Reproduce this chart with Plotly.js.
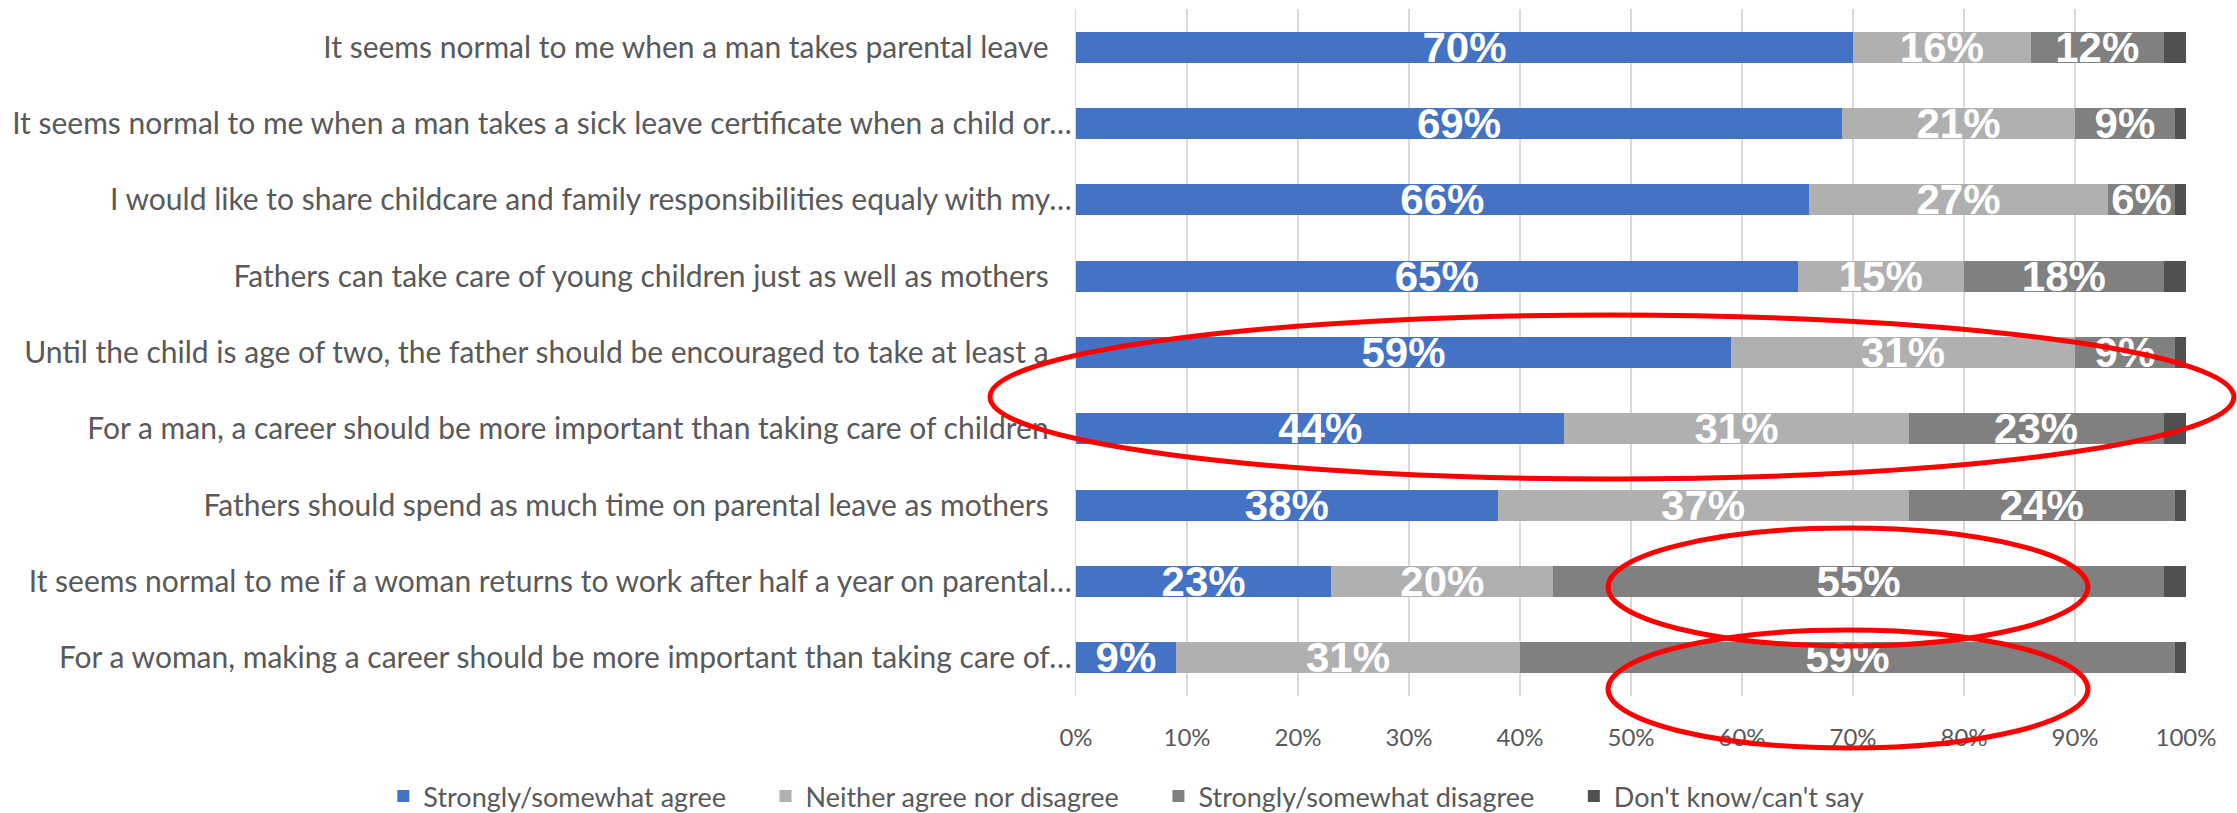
<!DOCTYPE html>
<html>
<head>
<meta charset="utf-8">
<script src="https://cdn.plot.ly/plotly-3.0.1.min.js"></script>
<style>html,body{margin:0;padding:0;background:#fff;}</style>
</head>
<body>
<div id="chart" style="width:2237px;height:813px;"></div>
<script>
// ---- data ----
const categories = [
  "It seems normal to me when a man takes parental leave",
  "It seems normal to me when a man takes a sick leave certificate when a child or\u2026",
  "I would like to share childcare and family responsibilities equaly with my\u2026",
  "Fathers can take care of young children just as well as mothers",
  "Until the child is age of two, the father should be encouraged to take at least a",
  "For a man, a career should be more important than taking care of children",
  "Fathers should spend as much time on parental leave as mothers",
  "It seems normal to me if a woman returns to work after half a year on parental\u2026",
  "For a woman, making a career should be more important than taking care of\u2026"
];
const agree     = [70, 69, 66, 65, 59, 44, 38, 23, 9];
const neither   = [16, 21, 27, 15, 31, 31, 37, 20, 31];
const disagree  = [12,  9,  6, 18,  9, 23, 24, 55, 59];
const dontKnow  = [ 2,  1,  1,  2,  1,  2,  1,  2,  1];
const seriesNames = [
  "Strongly/somewhat agree",
  "Neither agree nor disagree",
  "Strongly/somewhat disagree",
  "Don't know/can't say"
];
const xTickVals   = [0, 10, 20, 30, 40, 50, 60, 70, 80, 90, 100];
const xTickLabels = ["0%", "10%", "20%", "30%", "40%", "50%", "60%", "70%", "80%", "90%", "100%"];

// ---- style ----
const colors = ["#4472C4", "#B0B0B0", "#808080", "#505050"];
const labelFont = "Lato, 'Open Sans', sans-serif";
const NB = "\u00a0";
const catPad = NB.repeat(3);
const legendPad = NB.repeat(5);

const tickText = categories.map(c => c.endsWith("\u2026") ? c : c + catPad);

const seriesValues = [agree, neither, disagree, dontKnow];
const traces = seriesValues.map((vals, i) => ({
  type: "bar",
  orientation: "h",
  name: seriesNames[i] + (i < 3 ? legendPad : ""),
  y: categories,
  x: vals,
  marker: {color: colors[i]},
  text: i < 3 ? vals.map(v => v + "%") : undefined,
  textposition: i < 3 ? "inside" : "none",
  insidetextanchor: "middle",
  textangle: 0,
  constraintext: "none",
  textfont: {family: "'Liberation Sans', Arial, sans-serif", size: 42, color: "#ffffff", weight: "bold"},
  hoverinfo: "skip"
}));

const ellipse = (x0, x1, y0, y1) => ({
  type: "circle", xref: "paper", yref: "paper",
  x0: x0, x1: x1, y0: y0, y1: y1,
  line: {color: "#FF0000", width: 5}, layer: "above"
});

const layout = {
  width: 2237, height: 813,
  margin: {l: 1076, r: 51, t: 9, b: 117, pad: 0, autoexpand: false},
  paper_bgcolor: "#ffffff", plot_bgcolor: "#ffffff",
  barmode: "stack",
  bargap: 0.594,
  showlegend: true,
  xaxis: {
    range: [0, 100],
    tickmode: "array",
    tickvals: xTickVals,
    ticktext: xTickLabels,
    showgrid: true, gridcolor: "#d9d9d9", gridwidth: 1.3,
    zeroline: false, showline: false, ticks: "",
    ticklabelstandoff: 25,
    tickfont: {family: labelFont, size: 24, color: "#595959"},
    fixedrange: true
  },
  yaxis: {
    type: "category",
    autorange: "reversed",
    tickmode: "array",
    tickvals: categories,
    ticktext: tickText,
    showgrid: false, zeroline: false,
    showline: true, linecolor: "#d9d9d9", linewidth: 1.3,
    ticks: "",
    ticklabelstandoff: -3,
    tickfont: {family: labelFont, size: 30, color: "#595959"},
    fixedrange: true
  },
  legend: {
    orientation: "h",
    xref: "paper", yref: "paper",
    x: -0.624, xanchor: "left",
    y: -0.182, yanchor: "bottom",
    font: {family: labelFont, size: 27, color: "#595959"},
    traceorder: "normal",
    bgcolor: "rgba(0,0,0,0)"
  },
  shapes: [
    ellipse(-0.0775, 1.0432, 0.3159, 0.5546),
    ellipse(0.4793, 0.9117, 0.0728, 0.2445),
    ellipse(0.4793, 0.9117, -0.0757, 0.0961)
  ]
};

Plotly.newPlot("chart", traces, layout, {displayModeBar: false, staticPlot: true});
</script>
</body>
</html>
